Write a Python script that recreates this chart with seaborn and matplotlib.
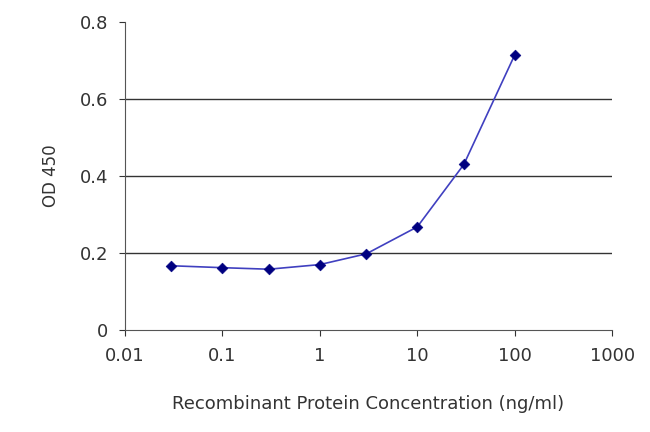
import matplotlib
matplotlib.use("Agg")
import matplotlib.pyplot as plt
import seaborn as sns
import pandas as pd

conc = [0.03, 0.1, 0.3, 1, 3, 10, 30, 100]
od450 = [0.167, 0.162, 0.158, 0.170, 0.198, 0.268, 0.430, 0.715]
x_ticks = [0.01, 0.1, 1, 10, 100, 1000]
x_tick_labels = ["0.01", "0.1", "1", "10", "100", "1000"]
y_ticks = [0, 0.2, 0.4, 0.6, 0.8]
y_tick_labels = ["0", "0.2", "0.4", "0.6", "0.8"]

sns.set_style("white")
plt.rcParams['font.family'] = ['DejaVu Sans']

df = pd.DataFrame({'conc': conc, 'od': od450})

fig = plt.figure(figsize=(6.5, 4.32), dpi=100)
ax = fig.add_axes([0.192, 0.236, 0.75, 0.713])

for y in y_ticks[1:-1]:
    ax.axhline(y, color='#333333', linewidth=1, zorder=0)

sns.lineplot(data=df, x='conc', y='od', ax=ax, color='#4040c0', linewidth=1.2)
sns.scatterplot(data=df, x='conc', y='od', ax=ax, marker='D', s=30,
                color='#000080', edgecolor='#000080', zorder=3)

ax.set_xscale('log')
ax.set_xlim(0.01, 1000)
ax.set_ylim(0, 0.8)
ax.set_xticks(x_ticks)
ax.set_xticklabels(x_tick_labels)
ax.minorticks_off()
ax.set_yticks(y_ticks)
ax.set_yticklabels(y_tick_labels)
ax.tick_params(axis='both', labelsize=13, colors='#333333', length=4, direction='out', pad=8)
ax.tick_params(axis='x', bottom=True)
ax.tick_params(axis='y', left=True)

for side in ['top', 'right']:
    ax.spines[side].set_visible(False)
for side in ['left', 'bottom']:
    ax.spines[side].set_color('#555555')

ax.set_xlabel('Recombinant Protein Concentration (ng/ml)', fontsize=13, color='#333333', labelpad=22)
ax.set_ylabel('OD 450', fontsize=12, color='#333333', labelpad=14)

plt.savefig('out.png', dpi=100)
